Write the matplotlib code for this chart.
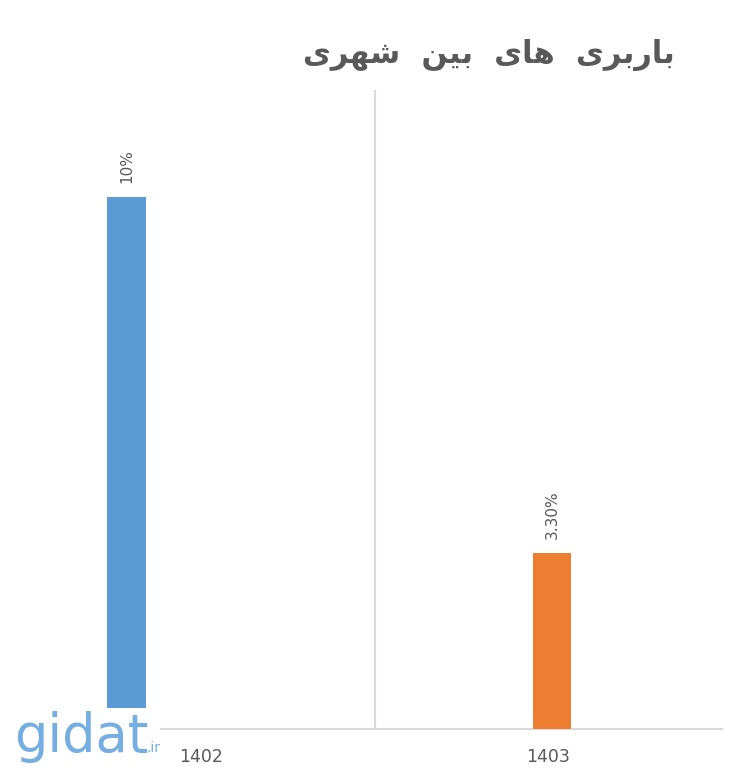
import matplotlib.pyplot as plt
from matplotlib.patches import Rectangle

# data
years = ["1402", "1403"]
values = [10, 3.3]
value_labels = ["10%", "3.30%"]
colors = ["#5B9BD5", "#ED7D31"]

# Persian title "باربری  های  بین  شهری", pre-shaped (presentation forms, visual order)
# since matplotlib has no RTL shaping
words = [
    "\uFE91\uFE8E\uFEAD\uFE91\uFEAE\uFEEF",  # باربری
    "\uFEEB\uFE8E\uFEEF",                    # های
    "\uFE91\uFEF4\uFEE6",                    # بین
    "\uFEB7\uFEEC\uFEAE\uFEEF",              # شهری
]
title_visual = "  ".join(w[::-1] for w in words[::-1])

bar_offsets = [-0.216, 0.01]
bar_width = 0.11
grey = "#595959"
grid = "#D9D9D9"
W, H = 740, 782

fig = plt.figure(figsize=(W / 100, H / 100), dpi=100)
ax = fig.add_axes([28 / W, 53 / H, 694 / W, 639 / H])

for i, (v, c, lab) in enumerate(zip(values, colors, value_labels)):
    x = i + bar_offsets[i]
    ax.bar(x, v, width=bar_width, color=c, zorder=3)
    ax.annotate(lab, (x, v), xytext=(0, 10), textcoords="offset points",
                rotation=90, ha="center", va="bottom", fontsize=11, color=grey)

ax.set_xlim(-0.5, 1.5)
ax.set_ylim(0, 12)
ax.axvline(0.5, color=grid, lw=1.5, zorder=1)
ax.set_xticks(range(len(years)))
ax.set_xticklabels(years, fontsize=12.5, color=grey)
ax.tick_params(axis="x", length=0, pad=14)
ax.set_yticks([])
for s in ["top", "right", "left"]:
    ax.spines[s].set_visible(False)
ax.spines["bottom"].set_color(grid)
ax.spines["bottom"].set_linewidth(1.5)

fig.text(675 / W, 1 - 55 / H, title_visual, ha="right", va="center",
         fontsize=22, fontweight="bold", color=grey, family="DejaVu Sans")

# watermark
fig.patches.append(Rectangle((14 / W, 1 - 776 / H), 146 / W, 68 / H,
                             transform=fig.transFigure, facecolor="white",
                             edgecolor="none", zorder=5))
fig.text(14 / W, 1 - 752 / H, "gidat", fontsize=38, color="#74AEE3",
         ha="left", va="baseline", zorder=6)
fig.text(147 / W, 1 - 752 / H, ".ir", fontsize=10, color="#74AEE3",
         ha="left", va="baseline", zorder=6)

fig.savefig("out.png", dpi=100)
